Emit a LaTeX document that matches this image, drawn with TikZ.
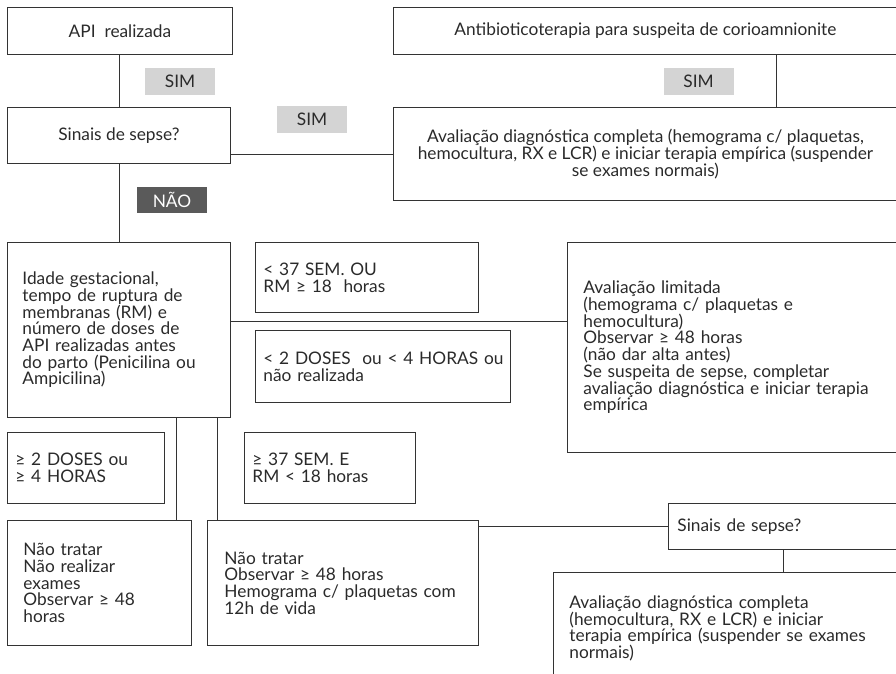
\documentclass[tikz,border=0pt]{standalone}
\usepackage{fontspec}
\setmainfont{Lato}
\definecolor{lc}{HTML}{333333}
\definecolor{tc}{HTML}{2A2A2A}
\definecolor{lg}{HTML}{D4D4D4}
\definecolor{dg}{HTML}{5A5A5A}
\begin{document}
\begin{tikzpicture}[x=1pt,y=-1pt,
  box/.style={draw=lc, line width=0.9pt, rectangle, inner sep=0pt, text=tc, anchor=north west,
    font=\fontsize{17.3}{16.7}\selectfont},
  cbox/.style={box, align=center},
  lbox/.style={box, align=left},
  tag/.style={rectangle, inner sep=0pt, minimum width=70pt, minimum height=27pt,
    font=\fontsize{17.3}{16.7}\selectfont},
  conn/.style={draw=lc, line width=0.9pt}]
\useasboundingbox (0,0) rectangle (896,674);
\clip (0,0) rectangle (896,674);
% boxes
\node[cbox, minimum width=225pt, minimum height=47pt] (api) at (7,7) {API\ \ realizada};
\node[cbox, minimum width=504pt, minimum height=47pt] (antib) at (393,7) {Antibioticoterapia para suspeita de corioamnionite};
\node[cbox, minimum width=223pt, minimum height=56pt] (sep1) at (7,107) {Sinais de sepse?};
\node[cbox, minimum width=504pt, minimum height=93pt] (aval1) at (393,107) {Avaliação diagnóstica completa (hemograma c/ plaquetas,\\hemocultura, RX e LCR) e iniciar terapia empírica (suspender\\se exames normais)};
\node[lbox, inner xsep=15pt, text width=193pt, minimum height=175pt] (idade) at (7,242) {Idade gestacional,\\tempo de ruptura de\\membranas (RM) e\\número de doses de\\API realizadas antes\\do parto (Penicilina ou\\Ampicilina)};
\node[lbox, inner xsep=8pt, text width=207pt, minimum height=70pt] (lt37) at (255,242) {< 37 SEM. OU\\RM ≥ 18\ \ horas};
\node[lbox, inner xsep=8pt, text width=239pt, minimum height=72pt] (lt2) at (255,330) {\mbox{< 2 DOSES\ \ ou < 4 HORAS ou}\\não realizada};
\node[lbox, inner xsep=16pt, text width=308pt, minimum height=210pt] (avlim) at (567,242) {Avaliação limitada\\(hemograma c/ plaquetas e\\hemocultura)\\Observar ≥ 48 horas\\(não dar alta antes)\\Se suspeita de sepse, completar\\\mbox{avaliação diagnóstica e iniciar terapia}\\empírica};
\node[lbox, inner xsep=8pt, text width=141pt, minimum height=71pt] (ge2) at (7,432) {≥ 2 DOSES ou\\≥ 4 HORAS};
\node[lbox, inner xsep=8pt, text width=155pt, minimum height=71pt] (ge37) at (244,432) {≥ 37 SEM. E\\RM < 18 horas};
\node[lbox, inner xsep=16pt, text width=152pt, minimum height=125pt] (nt1) at (7,520) {Não tratar\\Não realizar\\exames\\Observar ≥ 48\\horas};
\node[lbox, inner xsep=17pt, text width=237pt, minimum height=125pt] (nt2) at (207,520) {Não tratar\\Observar ≥ 48 horas\\\mbox{Hemograma c/ plaquetas com}\\12h de vida};
\node[lbox, inner xsep=9pt, text width=222pt, minimum height=46pt] (sep2) at (668,503) {Sinais de sepse?};
\node[lbox, inner xsep=16pt, text width=328pt, minimum height=112pt] (aval2) at (553,572) {Avaliação diagnóstica completa\\(hemocultura, RX e LCR) e iniciar\\\mbox{terapia empírica (suspender se exames}\\normais)};
% tags
\node[tag, fill=lg, text=tc] (sim1) at (180,81.5) {SIM};
\node[tag, fill=lg, text=tc] (sim2) at (312,119.5) {SIM};
\node[tag, fill=lg, text=tc] (sim3) at (698.5,81.5) {SIM};
\node[tag, fill=dg, text=white, minimum height=26pt] (nao) at (172,200) {NÃO};
% helper coordinates
\coordinate (xa) at (776,0);
\coordinate (yb) at (0,321);
\coordinate (xc) at (176,0);
\coordinate (xd) at (217,0);
\coordinate (xe) at (783,0);
% connectors
\draw[conn] (api.south -| sep1.north) -- (sep1.north);
\draw[conn] (sep1.east |- aval1.west) -- (aval1.west);
\draw[conn] (xa |- antib.south) -- (xa |- aval1.north);
\draw[conn] (sep1.south) -- (idade.north);
\draw[conn] (idade.east |- yb) -- (avlim.west |- yb);
\draw[conn] (xc |- idade.south) -- (xc |- nt1.north);
\draw[conn] (xd |- idade.south) -- (xd |- nt2.north);
\draw[conn] (nt2.east |- sep2.west) -- (sep2.west);
\draw[conn] (xe |- sep2.south) -- (xe |- aval2.north);
\end{tikzpicture}
\end{document}
